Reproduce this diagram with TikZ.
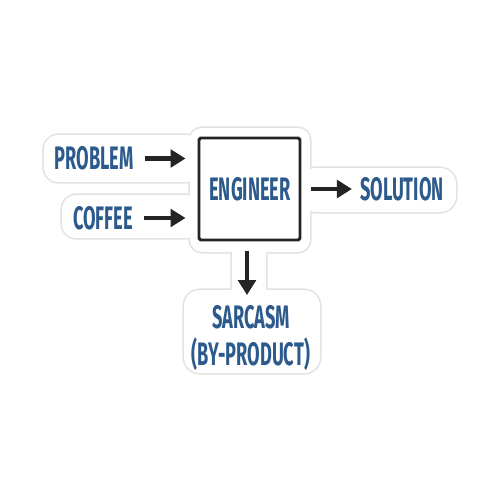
\documentclass[tikz,border=0pt]{standalone}
\usepackage{fontspec}
\setmainfont{Fira Sans}[BoldFont={* Bold},FakeStretch=0.56]
\usetikzlibrary{arrows.meta}
\definecolor{txtblue}{HTML}{2C5A8C}
\definecolor{ink}{HTML}{242424}
\definecolor{edge}{HTML}{E2E2E2}
\tikzset{
  lbl/.style={font=\fontsize{18.5}{20}\selectfont\bfseries, text=txtblue, inner sep=0pt, align=center},
  engbox/.style={draw=ink, line width=1.7pt, rounded corners=1pt, minimum width=101*0.02cm, minimum height=102*0.02cm, inner sep=0pt},
  conn/.style={draw=ink, line width=2.3pt, -{Triangle[length=8.5pt,width=10pt]}},
}
\begin{document}
\begin{tikzpicture}[x=0.02cm,y=-0.02cm]
\useasboundingbox (0,0) rectangle (500,500);
\fill[white] (0,0) rectangle (500,500);
% sticker outline
\foreach \r/\s/\t/\u/\c in {44/135/200/182/14, 62/195/200/238/14, 190/128/310/252/12, 300/168/456/212/16, 232/240/266/300/8, 184/290/320/373/16}
  \draw[edge, line width=1.8pt, rounded corners=\c*0.02cm] (\r,\s) rectangle (\t,\u);
\foreach \r/\s/\t/\u/\c in {44/135/200/182/14, 62/195/200/238/14, 190/128/310/252/12, 300/168/456/212/16, 232/240/266/300/8, 184/290/320/373/16}
  \fill[white, rounded corners=\c*0.02cm] (\r,\s) rectangle (\t,\u);
% nodes
\node[engbox] (eng) at (249.5,189) {};
\node[lbl] (engt) at (250,189.5) {ENGINEER};
\node[lbl] (problem) at (94,158.5) {PROBLEM};
\node[lbl] (coffee) at (103,218) {COFFEE};
\node[lbl] (solution) at (402,189.5) {SOLUTION};
\node[lbl, anchor=north] (sarcasm) at (251,305) {SARCASM\\[1pt](BY-PRODUCT)};
% connectors
\draw[conn, shorten <=11*0.02cm, shorten >=12*0.02cm] (problem.east) -- (problem.east -| eng.west);
\draw[conn, shorten <=11*0.02cm, shorten >=12*0.02cm] (coffee.east) -- (coffee.east -| eng.west);
\draw[conn, shorten <=10*0.02cm, shorten >=8*0.02cm] (eng.east) -- (eng.east -| solution.west);
\draw[conn, shorten <=10*0.02cm, shorten >=10*0.02cm] (eng.south -| 247,0) -- (sarcasm.north -| 247,0);
\end{tikzpicture}
\end{document}
